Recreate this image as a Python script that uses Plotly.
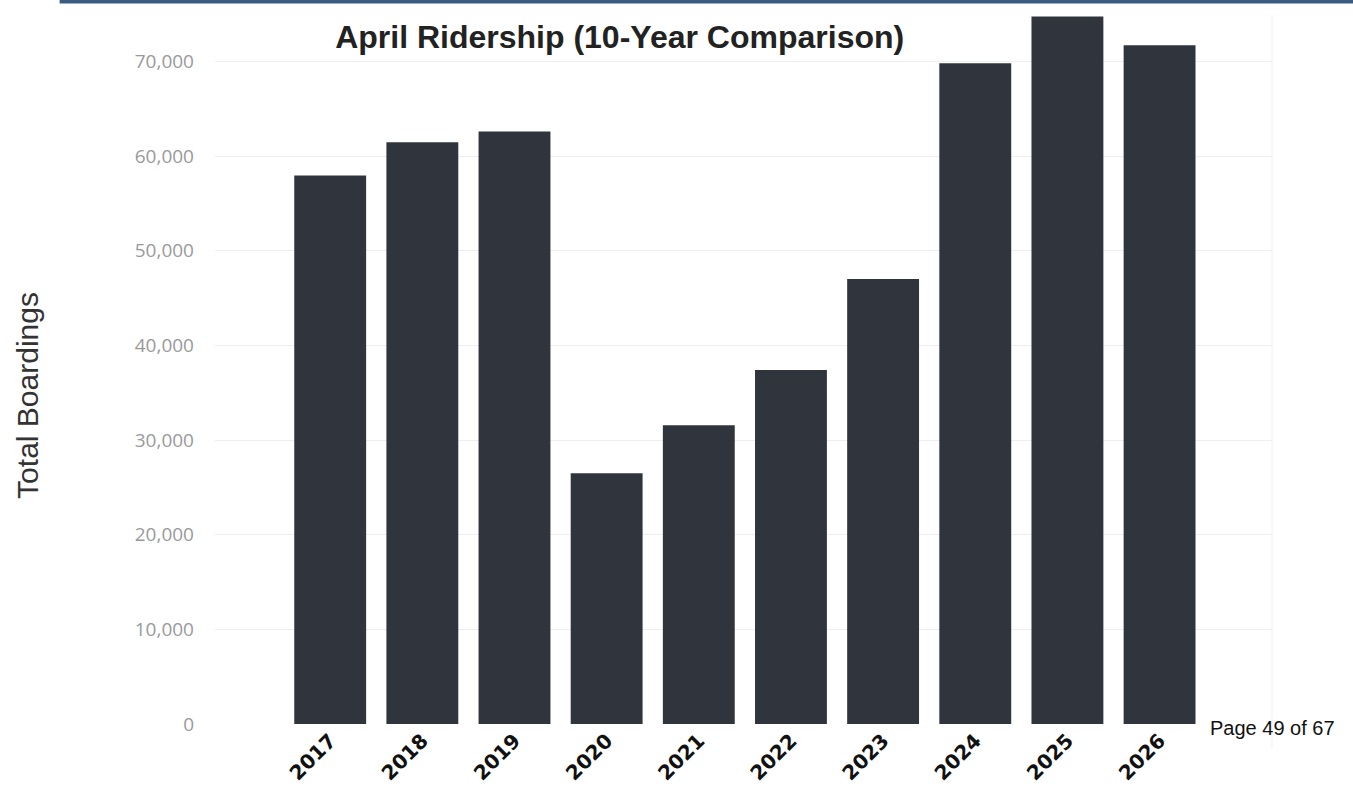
import plotly.graph_objects as go

BAR_COLOUR = "#30343c"

years = ["2017", "2018", "2019", "2020", "2021", "2022", "2023", "2024", "2025", "2026"]
boardings = [57950, 61450, 62600, 26500, 31550, 37400, 47000, 69800, 74750, 71700]
y_ticks = [0, 10000, 20000, 30000, 40000, 50000, 60000, 70000]
y_tick_labels = ["0", "10,000", "20,000", "30,000", "40,000", "50,000", "60,000", "70,000"]

fig = go.Figure(
    go.Bar(x=years, y=boardings, marker_color=BAR_COLOUR, marker_line_width=0, showlegend=False)
)

fig.update_layout(
    width=1353, height=786,
    margin=dict(l=215, r=81, t=15, b=62, autoexpand=False),
    plot_bgcolor="white", paper_bgcolor="white",
    bargap=0.22,
    title=dict(
        text="<b>April Ridership (10-Year Comparison)</b>",
        font=dict(family="Liberation Sans Narrow, Liberation Sans, Arial", size=32, color="#222"),
        x=0.458, xanchor="center", y=0.953, yanchor="middle",
    ),
    xaxis=dict(
        type="category", range=[-1.25, 10.22], automargin=False,
        tickangle=-45, showgrid=False, ticks="",
        tickfont=dict(family="DejaVu Sans", size=20, color="#111", weight="bold"),
    ),
    yaxis=dict(
        range=[0, 74900], tickvals=y_ticks, ticktext=y_tick_labels, automargin=False,
        showgrid=True, gridcolor="#eeeeee", gridwidth=1, zeroline=False,
        tickfont=dict(family="Open Sans", size=19, color="#9a9a9a"),
        ticklabelstandoff=20,
    ),
    shapes=[
        dict(type="line", xref="paper", yref="paper", x0=-0.147, x1=1.08, y0=1.019, y1=1.019,
             line=dict(color="#3b5a80", width=4)),
        dict(type="line", xref="paper", yref="paper", x0=1.0, x1=1.0, y0=-0.035, y1=1.0,
             line=dict(color="#f0f0f0", width=1)),
    ],
    annotations=[
        dict(text="Page 49 of 67", xref="paper", yref="paper", x=0.939, y=-0.005,
             xanchor="left", yanchor="middle", showarrow=False,
             font=dict(family="Liberation Sans, Arial", size=20, color="#111")),
        dict(text="Total Boardings", textangle=-90, xref="paper", yref="paper",
             x=-0.178, y=0.464, xanchor="center", yanchor="middle", showarrow=False,
             font=dict(family="Liberation Sans, Arial", size=30, color="#333")),
    ],
)

fig.write_html("out.html", config={"displayModeBar": False},
               post_script="document.body.style.margin='0';")
